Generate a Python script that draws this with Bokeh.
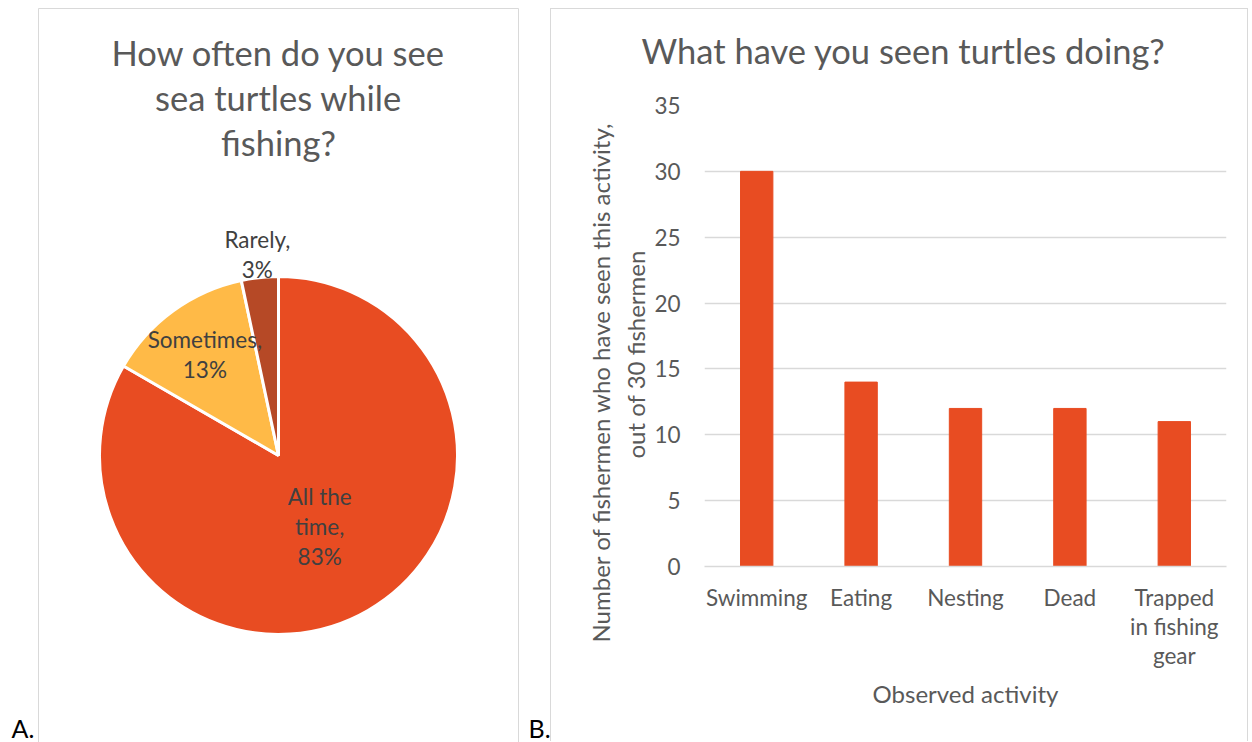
import math
from bokeh.plotting import figure
from bokeh.layouts import row
from bokeh.models import Range1d, ColumnDataSource, FixedTicker, Title
from bokeh.embed import file_html
from bokeh.resources import INLINE
from bokeh.core.properties import value

# ---------------- data ----------------
pie_title_lines = ["How often do you see", "sea turtles while", "fishing?"]
pie_categories = ["All the time", "Sometimes", "Rarely"]
pie_label_texts = [["All the", "time,"], ["Sometimes,"], ["Rarely,"]]
pie_counts = [25, 4, 1]
pie_colors = ["#E84C22", "#FFBA47", "#B64926"]

bar_title = "What have you seen turtles doing?"
bar_categories = ["Swimming", "Eating", "Nesting", "Dead", "Trapped\nin fishing\ngear"]
bar_values = [30, 14, 12, 12, 11]
y_ticks = [0, 5, 10, 15, 20, 25, 30, 35]
y_label_lines = ["Number of fishermen who have seen this activity,", "out of 30 fishermen"]
x_label = "Observed activity"
panel_letters = ["A.", "B."]

FONT = "Lato"
TXT = "#595959"
LBL = "#404040"
BORDER = "#d9d9d9"

# ---------------- left panel (pie) ----------------
W1, H = 550, 742
p1 = figure(width=W1, height=H, x_range=Range1d(0, W1), y_range=Range1d(0, H),
            x_axis_type=None, y_axis_type=None, output_backend="svg",
            toolbar_location=None, min_border=0, frame_align=False)
p1.outline_line_color = None
p1.grid.visible = False

# panel borders
p1.quad(left=[38], right=[518], top=[H - 8], bottom=[-10],
        fill_color=None, line_color=BORDER, line_width=1)

# title
p1.text(x=[278] * 3, y=[H - 52, H - 97, H - 142], text=pie_title_lines,
        text_font=value(FONT), text_font_size="34.5px", text_color=TXT,
        text_align="center", text_baseline="middle")

# pie
cx, cy, R = 278, H - 455, 179
total = sum(pie_counts)
cum = [0]
for c in pie_counts:
    cum.append(cum[-1] + c)
fr_a = [cum[i] / total for i in range(len(pie_counts))]
fr_b = [cum[i + 1] / total for i in range(len(pie_counts))]
start = [math.pi / 2 - 2 * math.pi * b for b in fr_b]
end = [math.pi / 2 - 2 * math.pi * a for a in fr_a]
src = ColumnDataSource(dict(start=start, end=end, color=pie_colors, cat=pie_categories))
p1.wedge(x=cx, y=cy, radius=R, start_angle="start", end_angle="end",
         fill_color="color", line_color="white", line_width=3, source=src)

# pie labels
label_r = [0.46, 0.70, 1.13]
lx, ly, lt = [], [], []
for i, c in enumerate(pie_counts):
    pct = f"{round(100 * c / total)}%"
    lines = pie_label_texts[i] + [pct]
    th = math.pi / 2 - 2 * math.pi * (fr_a[i] + fr_b[i]) / 2
    mx = cx + label_r[i] * R * math.cos(th)
    my = cy + label_r[i] * R * math.sin(th)
    n = len(lines)
    for j, t in enumerate(lines):
        lx.append(mx)
        ly.append(my - (j - (n - 1) / 2) * 30)
        lt.append(t)
p1.text(x=lx, y=ly, text=lt, text_font=value(FONT), text_font_size="22.5px",
        text_color=LBL, text_align="center", text_baseline="middle")

# panel letters
p1.text(x=[11, 528], y=[0, 0], text=panel_letters, text_font=value(FONT),
        text_font_size="25px", text_color="#000000", text_align="left",
        text_baseline="bottom")

# ---------------- right panel (bars) ----------------
W2, H2 = 698, 733
p2 = figure(width=W2, height=H2, x_range=bar_categories, y_range=Range1d(0, 35),
            output_backend="svg", toolbar_location=None, frame_align=False,
            min_border_left=153, min_border_right=23, min_border_top=96,
            min_border_bottom=176)
p2.styles = {"border-left": f"1px solid {BORDER}", "border-top": f"1px solid {BORDER}",
             "border-right": f"1px solid {BORDER}", "margin-top": "8px"}
p2.outline_line_color = None
p2.xgrid.visible = False
p2.ygrid.grid_line_color = BORDER
p2.ygrid.grid_line_width = 1.3

p2.vbar(x=bar_categories, top=bar_values, width=0.31, color="#E84C22")

p2.yaxis.ticker = FixedTicker(ticks=y_ticks)
p2.yaxis.axis_line_color = None
p2.yaxis.major_tick_line_color = None
p2.yaxis.minor_tick_line_color = None
p2.yaxis.major_tick_out = 0
p2.yaxis.major_tick_in = 0
p2.yaxis.major_label_standoff = 24
p2.yaxis.major_label_text_font = FONT
p2.yaxis.major_label_text_font_size = "22.5px"
p2.yaxis.major_label_text_color = TXT

p2.xaxis.axis_line_color = BORDER
p2.xaxis.axis_line_width = 1.3
p2.xaxis.major_tick_line_color = None
p2.xaxis.major_tick_out = 0
p2.xaxis.major_tick_in = 0
p2.xaxis.major_label_standoff = 17
p2.xaxis.major_label_text_font = FONT
p2.xaxis.major_label_text_font_size = "22.5px"
p2.xaxis.major_label_text_line_height = 1.09
p2.xaxis.major_label_text_color = TXT
p2.xaxis.axis_label = x_label
p2.xaxis.axis_label_standoff = 7
p2.xaxis.axis_label_text_font = FONT
p2.xaxis.axis_label_text_font_size = "24px"
p2.xaxis.axis_label_text_font_style = "normal"
p2.xaxis.axis_label_text_color = TXT

# title (outer) plus an empty spacer title between it and the plot area
p2.title = Title(text=bar_title, align="left", offset=-63, standoff=0,
                 text_font=FONT, text_font_size="34.5px", text_color=TXT,
                 text_font_style="normal")
p2.add_layout(Title(text=" ", standoff=32, text_font_size="1px"), "above")

# y-axis title, two lines (inner line first)
p2.add_layout(Title(text=y_label_lines[1], align="left", offset=108, standoff=4,
                    text_font=FONT, text_font_size="24px", text_color=TXT,
                    text_font_style="normal"), "left")
p2.add_layout(Title(text=y_label_lines[0], align="left", offset=-76, standoff=4,
                    text_font=FONT, text_font_size="24px", text_color=TXT,
                    text_font_style="normal"), "left")

layout = row(p1, p2, spacing=0)
open("out.html", "w").write(file_html(layout, INLINE))
